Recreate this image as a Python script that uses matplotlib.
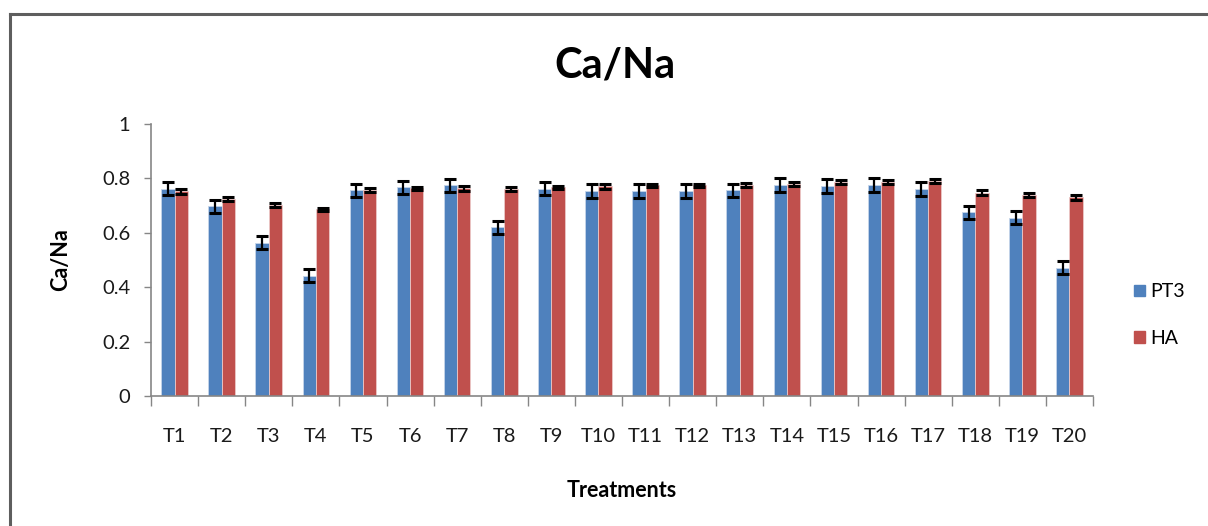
import matplotlib
matplotlib.use("Agg")
import matplotlib.pyplot as plt
import numpy as np
from matplotlib.patches import Patch
from matplotlib.lines import Line2D

treatments = ["T1","T2","T3","T4","T5","T6","T7","T8","T9","T10",
              "T11","T12","T13","T14","T15","T16","T17","T18","T19","T20"]
pt3 = [0.762,0.698,0.564,0.442,0.757,0.767,0.775,0.620,0.762,0.753,
       0.753,0.753,0.757,0.775,0.772,0.775,0.762,0.675,0.656,0.472]
pt3_err = [0.023,0.024,0.024,0.024,0.024,0.024,0.024,0.025,0.024,0.025,
           0.025,0.025,0.024,0.025,0.025,0.025,0.025,0.025,0.025,0.025]
ha = [0.753,0.724,0.702,0.687,0.757,0.763,0.763,0.762,0.767,0.771,
      0.775,0.775,0.775,0.780,0.787,0.787,0.790,0.748,0.739,0.730]
ha_err = [0.009,0.008,0.008,0.006,0.006,0.006,0.008,0.008,0.006,0.009,
          0.006,0.006,0.008,0.008,0.008,0.008,0.008,0.008,0.009,0.009]
yticks = [0, 0.2, 0.4, 0.6, 0.8, 1]
ytick_labels = ["0", "0.2", "0.4", "0.6", "0.8", "1"]

plt.rcParams['font.family'] = ['Lato', 'DejaVu Sans']

W, H = 1208, 526
fig = plt.figure(figsize=(W/100, H/100), dpi=100)
# outer frame (only top and left edges visible in the reference)
fig.add_artist(Line2D([10/W, 1.0], [1-14/H, 1-14/H], transform=fig.transFigure,
                      color='#5e5e5e', linewidth=2.2))
fig.add_artist(Line2D([10/W, 10/W], [0.0, 1-14/H], transform=fig.transFigure,
                      color='#5e5e5e', linewidth=2.2))

ax = fig.add_axes([151/W, 1-396/H, (1093-151)/W, (396-124)/H])
x = np.arange(len(treatments))
bw = 0.283
blue = '#4f81bd'
red = '#c0504d'
ax.bar(x - bw/2, pt3, bw, color=blue, edgecolor='#c6d5ea', linewidth=0.6, label='PT3')
ax.bar(x + bw/2, ha, bw, color=red, edgecolor='#ecc8c7', linewidth=0.6, label='HA')
ax.errorbar(x - bw/2, pt3, yerr=pt3_err, fmt='none', ecolor='black', elinewidth=1.6,
            capsize=4.5, capthick=2.2)
ax.errorbar(x + bw/2, ha, yerr=ha_err, fmt='none', ecolor='black', elinewidth=1.6,
            capsize=4.5, capthick=2.2)

ax.set_xlim(-0.5, len(treatments) - 0.5)
ax.set_ylim(0, 1)
ax.set_yticks(yticks)
ax.set_yticklabels(ytick_labels, fontsize=14.5, color='#1a1a1a')
ax.set_xticks(x)
ax.set_xticklabels(treatments, fontsize=14.5, color='#1a1a1a')
ax.set_xticks(np.arange(-0.5, len(treatments), 1), minor=True)
ax.tick_params(axis='x', which='major', length=0, pad=23)
ax.tick_params(axis='x', which='minor', length=7, color='#868686', width=1)
ax.tick_params(axis='y', which='major', length=5, color='#868686', width=1, pad=10)
for s in ['top', 'right']:
    ax.spines[s].set_visible(False)
for s in ['left', 'bottom']:
    ax.spines[s].set_color('#868686')
    ax.spines[s].set_linewidth(1.2)

ax.set_ylabel('Ca/Na', fontsize=15.5, fontweight='bold')
ax.yaxis.set_label_coords((71-151)/942, 0.5)
ax.set_xlabel('Treatments', fontsize=15.5, fontweight='bold')
ax.xaxis.set_label_coords(0.5, (396-480)/272)
fig.text(615/W, 1-66/H, 'Ca/Na', fontsize=30, fontweight='bold', ha='center', va='center')

handles = [Patch(color=blue, label='PT3'), Patch(color=red, label='HA')]
fig.legend(handles=handles, loc='center left', bbox_to_anchor=(1134/W, 1-315/H),
           frameon=False, fontsize=14, labelspacing=1.5, handlelength=0.55,
           handleheight=0.55, handletextpad=0.3, borderpad=0, borderaxespad=0)

fig.savefig('out.png', dpi=100)
